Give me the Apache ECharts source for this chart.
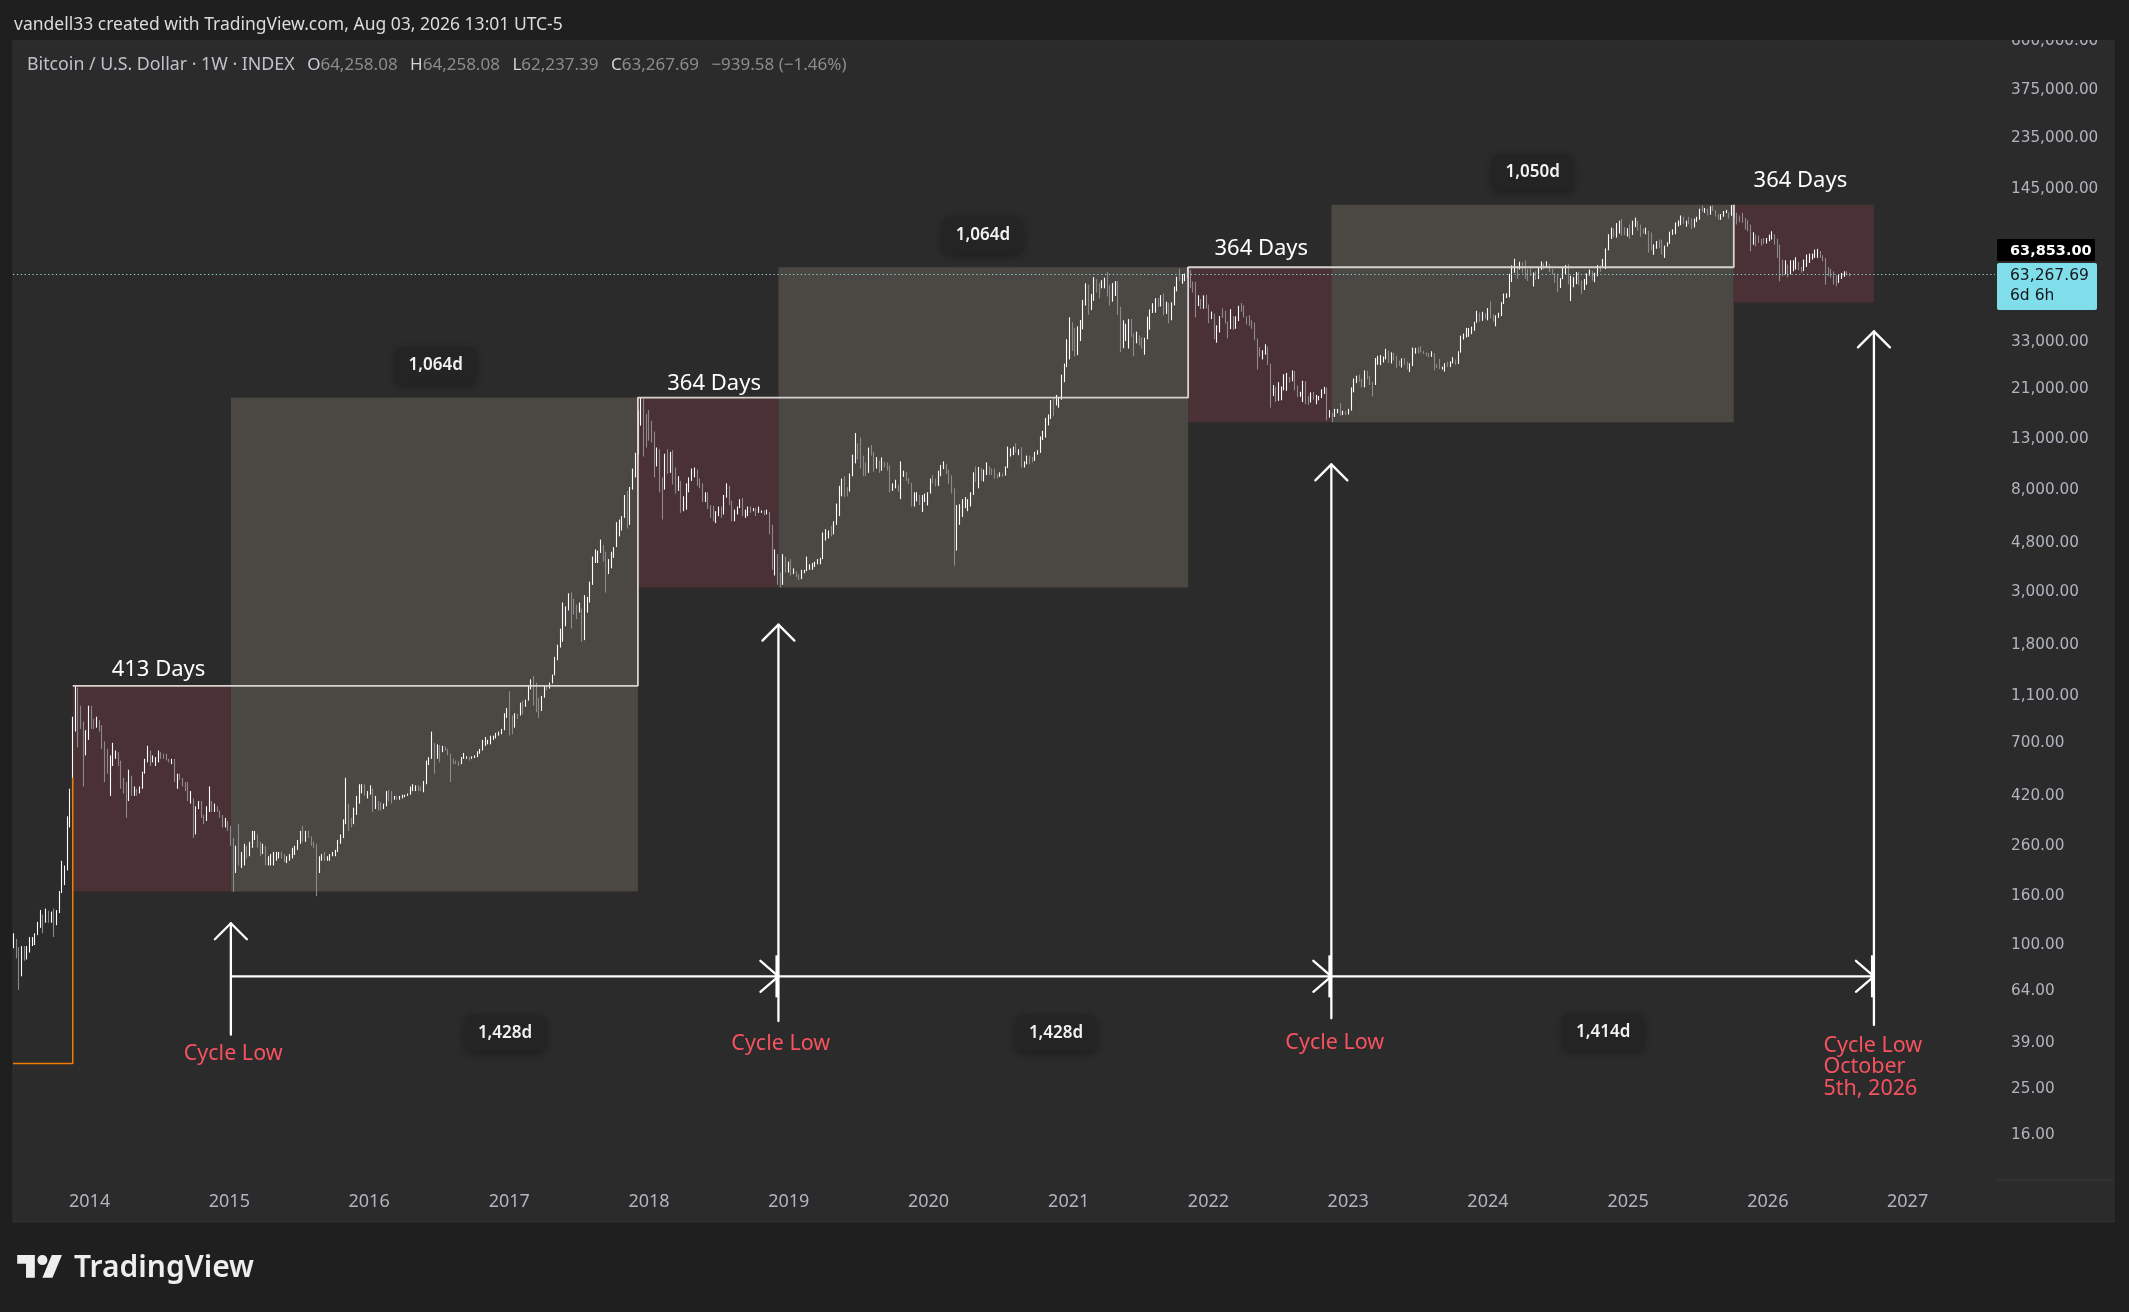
<!DOCTYPE html>
<html>
<head>
<meta charset="utf-8">
<title>Bitcoin cycles</title>
<script src="https://cdn.jsdelivr.net/npm/echarts@6.0.0/dist/echarts.min.js"></script>
<style>
html,body{margin:0;padding:0;background:#1f1f1f;overflow:hidden;}
#chart{width:2129px;height:1312px;}
</style>
</head>
<body>
<div id="chart"></div>
<script>
// ================= DATA (weekly bars: [high, low, close]; open = previous close) =================
const firstOpen = 99;
const weekStarts = ['2013-06-17','2014-01-06','2015-01-05','2016-01-04','2017-01-02','2018-01-01','2019-01-07','2020-01-06','2021-01-04','2022-01-03','2023-01-02','2024-01-01','2025-01-06','2026-01-05'];

const bars2013 = [[112,97,101],[106,88,95],[98,65,77],[99,74,97],[99,86,91],[99,87,96],[108,93,103],[108,99,104],[112,100,111],[125,110,122],[140,118,130],[134,112,125],[142,124,136],[139,124,133],[138,124,134],[142,108,125],[140,121,137],[168,136,165],[225,165,182],[215,178,210],[345,205,330],[450,310,420],[900,380,790],[1211,780,1100],[1190,670,880],[1000,800,860],[860,460,660],[790,620,730],[1000,720,950]];
const bars2014 = [[1000,800,860],[880,800,835],[900,810,870],[870,780,805],[830,660,690],[710,480,630],[660,520,560],[620,420,560],[700,560,630],[650,600,630],[640,560,570],[590,450,480],[500,430,450],[480,340,440],[540,400,500],[510,420,440],[460,420,440],[450,420,435],[460,430,450],[530,450,520],[600,520,580],[680,580,650],[650,560,580],[620,580,600],[610,560,600],[650,580,630],[640,600,625],[630,600,620],[630,590,595],[600,580,590],[600,570,590],[600,480,490],[520,450,500],[520,490,495],[500,460,480],[480,440,475],[480,400,410],[440,390,410],[410,280,330],[380,290,380],[400,370,390],[400,340,350],[350,320,345],[380,330,370],[460,360,385],[400,360,375],[390,360,380],[380,360,365],[365,340,350],[350,310,320],[340,310,330],[330,300,315]];
const bars2015 = [[300,260,275],[280,167,205],[260,200,250],[320,215,225],[245,210,228],[265,215,260],[260,230,238],[270,235,260],[300,255,275],[300,275,285],[290,255,262],[270,235,245],[265,240,255],[260,215,222],[235,215,225],[240,215,225],[245,215,240],[245,225,240],[245,230,240],[245,230,236],[240,222,225],[235,220,230],[240,225,233],[255,230,245],[260,238,255],[275,250,270],[300,265,300],[315,270,275],[300,270,290],[300,280,285],[285,260,265],[270,255,260],[265,160,230],[235,200,230],[240,225,240],[245,225,230],[235,225,230],[240,225,235],[245,235,240],[250,235,248],[275,245,270],[290,265,285],[335,280,325],[500,320,380],[390,300,330],[340,310,325],[375,320,370],[420,350,390],[470,390,435],[470,430,440],[470,420,420],[440,410,430]];
const bars2016 = [[465,425,447],[450,360,380],[420,370,400],[400,365,380],[395,365,375],[390,370,383],[440,380,435],[445,400,430],[440,390,410],[420,405,412],[420,405,410],[420,405,415],[425,410,420],[425,415,420],[430,420,428],[460,425,455],[470,440,455],[465,440,460],[465,440,455],[460,440,442],[485,435,470],[590,470,580],[610,565,600],[780,600,700],[700,520,660],[690,600,680],[685,580,650],[680,640,665],[675,650,655],[660,620,625],[630,480,590],[600,570,585],[590,570,580],[585,560,575],[610,570,605],[635,600,608],[615,600,610],[610,590,600],[615,600,612],[620,605,616],[645,610,640],[660,630,655],[720,650,700],[740,680,705],[720,690,705],[750,690,735],[750,720,735],[770,730,765],[780,750,775],[800,760,790],[930,790,895],[980,890,965]];
const bars2017 = [[1150,750,900],[910,760,820],[930,810,920],[925,880,915],[1030,910,1010],[1050,920,1000],[1060,990,1055],[1210,1050,1190],[1290,1170,1270],[1330,1000,1230],[1250,940,970],[1080,890,965],[1100,950,1090],[1210,1080,1200],[1220,1160,1180],[1250,1180,1245],[1350,1240,1345],[1600,1340,1560],[1800,1550,1770],[2100,1750,2050],[2700,1850,2200],[2600,2150,2550],[2950,2500,2650],[2980,2100,2620],[2800,2400,2520],[2650,2300,2450],[2700,2450,2520],[2550,1850,1920],[2900,1880,2750],[2850,2450,2800],[3300,2700,3230],[4200,3200,4080],[4500,3950,4100],[4450,3950,4350],[4950,4350,4600],[4700,4000,4200],[4400,2970,3700],[4100,3550,3780],[4400,3750,4350],[4600,4150,4600],[5850,4600,5700],[6000,5100,6000],[6200,5400,6150],[7600,6100,7400],[7900,5500,5900],[8200,5700,8000],[9800,8000,9700],[11400,9000,11200],[17200,11200,15000],[19400,14800,19000],[19200,11000,14000],[16600,12000,13800]];
const bars2018 = [[17200,12800,13700],[15500,12600,13600],[14000,9000,11500],[12000,10000,11600],[11800,7800,8200],[9000,6000,8100],[11300,8000,11000],[11800,9300,9600],[11500,9400,11400],[11700,8400,8900],[9900,7700,8200],[9100,7900,8500],[8700,6400,6900],[7500,6500,6900],[8500,6600,8000],[9000,7800,8900],[9800,8700,9300],[9900,9000,9600],[9700,8300,8700],[8900,8100,8200],[8500,7100,7500],[7800,7100,7700],[7800,6650,6750],[6900,6100,6450],[6850,5900,6200],[6500,5800,6400],[6800,6200,6750],[6800,6100,6350],[7600,6300,7400],[8500,7400,8200],[8300,6900,7000],[7200,5900,6300],[6600,5900,6400],[6800,6300,6700],[7300,6700,7200],[7400,6200,6300],[6600,6100,6500],[6800,6200,6700],[6800,6400,6600],[6700,6500,6600],[6700,6200,6400],[6800,6400,6450],[6550,6400,6450],[6550,6250,6400],[6600,6300,6400],[6450,5200,5600],[5700,3700,4000],[4500,3500,4100],[4300,3200,3500],[3600,3120,3250],[4300,3200,3950],[4200,3600,3850],[4000,3600,4000]];
const bars2019 = [[4100,3500,3550],[3750,3550,3550],[3650,3450,3530],[3550,3350,3420],[3700,3380,3650],[3700,3580,3660],[4200,3650,3850],[3900,3700,3850],[3950,3700,3900],[4000,3800,4000],[4100,3900,4000],[4150,3900,4100],[5300,4100,5050],[5470,4900,5050],[5400,5000,5300],[5650,5100,5200],[5900,5200,5750],[7000,5700,6950],[8300,6200,8000],[8900,7500,8700],[9100,7450,8000],[8200,7500,7950],[9350,7850,9300],[11200,9100,11000],[13800,10300,11900],[12500,10700,11450],[13200,9800,10200],[11100,9100,9850],[10400,9100,9500],[12000,9400,11850],[12300,11100,11400],[11500,9500,10200],[10950,9800,10350],[10600,9400,9600],[10900,9600,10400],[10450,9900,10300],[10400,9600,9700],[10100,7800,8050],[8500,7900,8200],[8800,8100,8300],[8400,7850,8200],[10500,7300,9200],[9600,9050,9200],[9500,8700,8800],[8950,8450,8500],[8550,6800,7000],[7800,6800,7400],[7800,7150,7500],[7600,6900,7100],[7600,6450,7300],[7700,7100,7400],[7800,6870,7750]];
const bars2020 = [[8900,7700,8900],[9200,8500,8650],[8900,8250,8350],[9600,8300,9350],[10150,9100,9900],[10500,9750,9900],[10200,9300,9650],[9700,8450,8550],[9180,7700,8050],[8100,3850,5400],[6900,4450,5800],[6950,5700,6250],[7300,6150,6800],[7450,6700,6900],[7300,6500,7150],[7800,6800,7700],[9450,7600,8900],[10000,8600,8700],[9950,8100,9650],[9850,8700,8900],[9700,8650,9450],[10400,9200,9700],[10000,9200,9400],[9800,9200,9300],[9800,8900,9150],[9300,8900,9050],[9450,9050,9200],[9350,9050,9150],[10000,9150,9950],[12100,9850,11050],[11900,11000,11700],[12100,11150,11900],[12500,11400,11650],[11800,11150,11700],[12050,9900,10250],[10500,9900,10300],[11100,10200,11000],[11100,10200,10750],[10950,10400,10680],[11500,10550,11400],[11700,11200,11500],[13350,11400,13100],[14100,12900,13800],[15950,13200,15500],[16500,14850,16000],[18950,15800,18700],[19500,16200,18200],[19900,18000,19200],[19400,17600,19200],[24200,19000,23800],[26900,22500,26500],[34000,26000,33000]];
const bars2021 = [[42000,28000,38200],[40100,30400,36000],[37800,28800,32300],[38500,29200,34300],[40900,33400,39200],[49700,37400,48600],[58300,47000,57500],[57500,43000,46200],[52600,45000,50900],[61800,49200,59000],[60700,53300,57300],[58500,50400,55800],[60000,55500,58200],[61500,55500,60000],[64900,51300,56200],[57500,47000,49000],[58400,48800,56600],[59500,51600,58200],[59500,43000,46500],[45800,30000,34700],[40800,31200,35700],[39500,33400,35800],[41300,31100,39000],[41300,34800,35500],[36000,28800,34700],[36600,32700,35300],[35100,32100,34250],[34600,31100,31800],[34500,29300,34300],[42300,34000,41500],[45300,37300,44400],[48100,43800,47000],[50500,43900,49000],[50500,46400,48800],[52000,46600,51800],[52900,42800,45000],[48800,43400,48300],[48300,39600,42800],[48500,40800,48200],[56500,47100,55000],[62000,53900,61500],[67000,59600,61300],[63700,58000,61300],[64000,59400,61500],[68000,62300,65500],[66300,55600,58600],[59300,53300,57300],[59100,42000,49400],[51900,46800,50100],[50000,45500,46700],[51900,45600,50800],[52100,45700,47300]];
const bars2022 = [[47500,39700,41900],[44400,41300,43100],[43500,34000,36300],[38900,32900,37900],[42500,36300,42400],[45800,41800,42200],[44800,39500,40100],[40300,34300,37700],[45400,37500,38400],[42500,37200,37800],[42400,37600,41300],[46900,40500,46800],[48200,44300,46400],[47200,42000,42200],[42400,39200,39700],[42900,38600,39500],[40800,37600,38500],[40000,33700,34300],[34300,25400,31300],[31500,28700,29400],[30600,28000,29500],[32400,29300,29900],[31700,26500,26600],[26900,17600,20600],[21900,19700,21000],[21600,18600,19300],[22500,18800,20800],[21600,18900,20800],[24300,20800,22600],[24600,20700,23300],[23700,22400,23200],[25200,22700,24400],[25100,20800,21500],[21800,19500,19550],[20500,19600,19800],[22800,18600,21800],[22700,18200,19400],[19700,18100,18800],[20400,18500,19300],[20500,19000,19100],[19900,18200,19200],[19700,18900,19600],[21000,19300,20600],[21500,20100,21300],[21400,15600,16300],[17200,16000,16700],[16800,15300,16500],[17400,16100,17100],[17400,16700,17100],[18400,16300,16800],[17100,16400,16850],[17000,16400,16600]];
const bars2023 = [[17400,16500,17150],[21400,17100,20900],[23300,20400,22700],[23950,22300,23700],[24200,22600,22950],[23200,21400,21800],[25200,21400,24600],[25100,23100,23450],[23900,21900,22400],[22600,19600,22100],[28400,21900,27950],[29000,26600,27950],[29200,26500,28150],[28800,27200,28300],[31000,28000,30300],[30500,27100,27800],[30000,26950,29250],[29800,27700,28900],[29000,25800,26800],[27700,26300,26750],[28300,25900,28100],[28400,26500,27100],[27400,25400,25850],[27000,24800,26350],[31400,26250,30500],[31300,29600,30600],[31500,29700,30300],[31800,29900,30250],[30400,29500,29850],[30000,28900,29300],[29800,28600,29050],[30300,28700,29400],[29700,25200,26100],[26800,25800,26000],[28100,25500,25850],[26100,25400,25850],[27000,24900,26550],[27400,26000,26250],[27500,26000,26950],[28600,27200,27950],[28000,26550,26850],[30300,26800,29950],[35200,29900,34500],[35900,33900,35000],[37950,34600,37050],[37900,34800,37400],[38400,35700,37450],[40250,36900,39950],[44700,39900,43800],[44000,40200,42200],[44300,40600,43700],[43600,41500,42300]];
const bars2024 = [[45900,40800,43950],[49000,41700,41700],[43200,40300,41550],[42800,38500,42050],[43900,41800,43000],[48600,42500,48300],[52800,47700,51650],[52900,50600,51700],[63900,50900,63100],[69200,59000,68300],[73800,64500,68400],[68900,60800,67200],[71700,66600,69600],[71300,64500,69350],[72700,60800,65700],[66900,59600,64950],[67200,62500,63400],[64700,56500,63900],[65500,60200,61500],[67700,60700,66250],[71900,66300,68500],[70600,66700,67750],[72000,67600,69650],[70200,65000,66200],[66950,63400,64250],[62600,58500,62700],[63800,53500,58200],[61200,55700,60800],[68300,60600,68150],[69400,63500,68250],[70000,57600,58100],[62700,49100,58700],[61800,56100,59450],[65000,57800,64200],[64900,57300,57300],[59800,52550,54850],[60700,54600,59950],[64100,57500,63600],[66500,62700,65650],[65000,59800,62850],[64500,58900,62850],[69400,62400,68400],[69500,65100,67950],[73600,67500,68750],[81500,66800,80400],[93450,80000,90600],[99600,89300,97650],[98700,90800,97200],[104000,90500,101100],[106500,94000,104500],[108300,92200,95300],[99900,92500,93750],[99000,91300,98300]];
const bars2025 = [[102700,89200,94500],[106400,92800,101300],[109600,100100,104700],[106400,96700,97700],[102500,91200,96500],[98500,94100,96150],[99500,93400,96250],[96500,78200,94200],[95000,80000,80700],[84700,76600,82600],[87500,81200,86050],[88800,81600,82300],[88500,76800,78400],[83500,74400,83700],[86400,83000,85200],[95800,87500,93700],[97900,92800,94300],[104300,93400,104600],[106600,100800,106400],[111900,102000,109000],[110700,103100,105600],[106500,100400,105700],[110400,102800,105500],[108900,98200,100900],[108500,99600,108400],[110500,105100,109200],[119400,107500,119100],[123200,115800,117300],[120200,114700,119400],[119300,111900,114200],[122300,112700,119300],[123500,116800,117400],[117600,110700,113500],[113500,107300,108300],[113400,107300,111100],[116800,110600,115300],[118000,114400,115300],[113300,108600,112200],[123800,111600,123500],[124000,109500,115000],[114000,102600,108500],[112000,104900,107200],[114700,104200,106000],[109400,97700,101500],[107000,96100,97000],[102600,79300,86000],[95200,84500,90500],[93100,83200,88500],[92200,85900,88000],[89300,83700,86500],[90100,85000,86000],[90100,85400,88000]];
const bars2026 = [[93100,87300,91500],[96100,88700,93000],[93500,84500,86500],[89300,74400,76500],[84500,59400,64500],[73200,62400,63500],[72700,63400,65500],[69800,61800,64000],[72700,63500,67000],[72700,65400,70500],[74900,66500,71500],[71500,66100,67500],[68200,64400,66000],[73200,65500,71000],[76800,68200,74000],[77500,70900,75500],[77500,73200,76500],[80600,74400,78500],[81100,74400,79500],[79500,74400,76000],[76300,72000,74000],[74400,57500,63000],[68000,62400,62500],[66900,61400,62000],[65400,57500,60500],[62800,56600,59000],[63400,58500,62000],[64400,60800,63500],[65400,62000,65000],[65400,62800,64258.08],[64258.08,62237.39,63267.69]];

// axis ticks
const priceTicks = [600000,375000,235000,145000,33000,21000,13000,8000,4800,3000,1800,1100,700,420,260,160,100,64,39,25,16];
const yearTicks = [2014,2015,2016,2017,2018,2019,2020,2021,2022,2023,2024,2025,2026,2027];

// cycle drawings
const peakDates = ['2013-11-18','2017-12-03','2021-11-09','2025-10-04'];
const peakPrices = [1211, 19400, 68000, 124000];
const cycleLowDates = ['2015-01-05','2018-12-05','2022-11-18','2026-10-05'];
const redBoxLows = [167.6, 3120, 15300, 48400];
const arrowTops = [123.3, 2183, 10200, 36700];
const arrowBottoms = [42.2, 48.1, 49.4, 46.3];
const spanPrice = 74.0;
const orangeLevels = [32, 500];

const dayLabels = ['413 Days','364 Days','364 Days','364 Days'];
const dayLabelDates = ['2014-06-30','2018-06-20','2022-05-19','2026-03-27'];
const dayLabelPrices = [1456, 22640, 83560, 160600];

const rangeLabels = ['1,064d','1,064d','1,050d','1,428d','1,428d','1,414d'];
const rangeLabelDates = ['2016-06-23','2020-05-22','2024-04-27','2016-12-21','2020-11-29','2024-10-28'];
const rangeLabelPrices = [27190, 95260, 173800, 43.9, 43.9, 44.5];

const cycleTexts = ['Cycle Low','Cycle Low','Cycle Low','Cycle Low\nOctober\n5th, 2026'];
const cycleTextDates = ['2015-01-11','2018-12-11','2022-11-27','2026-05-26'];
const cycleTextPrices = [36.1, 39.6, 40.1, 31.7];
const cycleTextAlign = ['center','center','center','left'];

const lastPrice = 63267.69;
const otherPrice = 63853.00;
const countdown = '6d 6h';

// ================= BUILD =================
const DAY = 86400000;
function ts(s){ const p = s.split('-').map(Number); return Date.UTC(p[0], p[1]-1, p[2]); }
const yearBars = [bars2013,bars2014,bars2015,bars2016,bars2017,bars2018,bars2019,bars2020,bars2021,bars2022,bars2023,bars2024,bars2025,bars2026];
const candles = [];
let prevClose = firstOpen;
yearBars.forEach((arr, k) => {
  const t0 = ts(weekStarts[k]);
  arr.forEach((b, i) => {
    const h = b[0], l = b[1], c = b[2];
    candles.push([t0 + i*7*DAY, prevClose, c, Math.min(l, prevClose, c), Math.max(h, prevClose, c)]);
    prevClose = c;
  });
});

const X_MIN = ts('2013-06-15');
const X_MAX = X_MIN + 5176.2*DAY;

const boxes = [];
for (let i = 0; i < 4; i++) {
  boxes.push([ts(peakDates[i]), ts(cycleLowDates[i]), redBoxLows[i], peakPrices[i], 1]);
  if (i < 3) boxes.push([ts(cycleLowDates[i]), ts(peakDates[i+1]), redBoxLows[i], peakPrices[i+1], 0]);
}
const stairLine = [[ts(peakDates[0]), peakPrices[0]]];
for (let i = 1; i < 4; i++) { stairLine.push([ts(peakDates[i]), peakPrices[i-1]]); stairLine.push([ts(peakDates[i]), peakPrices[i]]); }

const orangeLine = [[X_MIN, orangeLevels[0]], [ts(peakDates[0]), orangeLevels[0]], [ts(peakDates[0]), orangeLevels[1]]];

const vArrows = cycleLowDates.map((d, i) => [ts(d), arrowTops[i], arrowBottoms[i]]);
const hArrows = [0,1,2].map(i => [ts(cycleLowDates[i]), ts(cycleLowDates[i+1]), spanPrice]);

function fmtPrice(v){
  const n = Math.round(Number(v) * 100) / 100;
  return n.toLocaleString('en-US', {minimumFractionDigits:2, maximumFractionDigits:2});
}

const UI = 'Noto Sans';
const LOGO = '#eeeeee';
const TDY = 2.7;   // baseline nudge for drawn text
const chart = echarts.init(document.getElementById('chart'), null, {renderer:'canvas', width:2129, height:1312});

const option = {
  backgroundColor: '#1f1f1f',
  animation: false,
  grid: {left: 13, right: 134, top: 38, bottom: 132, containLabel: false},
  xAxis: {
    type: 'value', min: X_MIN, max: X_MAX, scale: true,
    axisLine: {show:false}, axisTick: {show:false}, splitLine: {show:false},
    axisLabel: {
      customValues: yearTicks.map(y => Date.UTC(y, 0, 1)),
      formatter: v => String(new Date(v).getUTCFullYear()),
      color: '#b2b5be', fontFamily: UI, fontSize: 18, margin: 13
    }
  },
  yAxis: {
    type: 'log', logBase: 10, min: 10.427, max: 617200, position: 'right',
    axisLine: {show:false}, axisTick: {show:false}, splitLine: {show:false},
    axisLabel: {
      customValues: priceTicks,
      formatter: v => fmtPrice(v),
      color: '#b2b5be', fontFamily: 'DejaVu Sans', fontSize: 15.25, margin: 16,
      padding: [6, 0, 0, 0]
    }
  },
  graphic: [
    {type:'rect', z:-10, silent:true, shape:{x:13, y:40, width:2101, height:1182}, style:{fill:'#2b2b2b', stroke:'#333333', lineWidth:1}},
    {type:'line', z:-9, silent:true, shape:{x1:1997, y1:1180, x2:2113, y2:1180}, style:{stroke:'#3a3a3a', lineWidth:1}},
    {type:'rect', z:100, silent:true, shape:{x:0, y:0, width:2129, height:40}, style:{fill:'#1f1f1f'}},
    {type:'text', z:101, silent:true, x:14, y:25.4, style:{text:'vandell33 created with TradingView.com, Aug 03, 2026 13:01 UTC-5', fill:'#dcdcdc', fontSize:17.5, fontFamily:UI, verticalAlign:'middle', textVerticalAlign:'middle'}},
    {type:'text', z:101, silent:true, x:27, y:65.4, style:{
      text:'{t|Bitcoin / U.S. Dollar · 1W · INDEX}{s| }{k|O}{v|64,258.08}{s| }{k|H}{v|64,258.08}{s| }{k|L}{v|62,237.39}{s| }{k|C}{v|63,267.69}{s| }{v|−939.58 (−1.46%)}',
      verticalAlign:'middle', textVerticalAlign:'middle',
      rich:{
        t:{fill:'#bfc2c9', fontSize:17.8, fontFamily:UI},
        k:{fill:'#d1d4dc', fontSize:17, fontFamily:UI},
        v:{fill:'#8c8c8c', fontSize:17, fontFamily:UI},
        s:{fill:'#8c8c8c', fontSize:17, fontFamily:UI, width:12.5}
      }
    }},
    {type:'polygon', z:101, silent:true, x:17.2, y:1250, scaleX:1.26, scaleY:1.26, shape:{points:[[14,22],[7,22],[7,11],[0,11],[0,4],[14,4]]}, style:{fill:LOGO}},
    {type:'polygon', z:101, silent:true, x:17.2, y:1250, scaleX:1.26, scaleY:1.26, shape:{points:[[28,22],[20,22],[27.5,4],[35.5,4]]}, style:{fill:LOGO}},
    {type:'circle', z:101, silent:true, x:17.2, y:1250, scaleX:1.26, scaleY:1.26, shape:{cx:20, cy:8, r:4}, style:{fill:LOGO}},
    {type:'text', z:101, silent:true, x:74, y:1268, style:{text:'TradingView', fill:LOGO, fontSize:30, fontWeight:600, fontFamily:UI, verticalAlign:'middle', textVerticalAlign:'middle'}}
  ],
  series: [
    {
      name:'boxes', type:'custom', z:1, silent:true, clip:true,
      data: boxes, encode:{x:[0,1], y:[2,3]},
      renderItem: (params, api) => {
        const a = api.coord([api.value(0), api.value(3)]);
        const b = api.coord([api.value(1), api.value(2)]);
        return {type:'rect', shape:{x:a[0], y:a[1], width:b[0]-a[0], height:b[1]-a[1]},
          style:{fill: api.value(4) === 1 ? '#4a3136' : '#4b4742'}};
      }
    },
    {
      name:'BTCUSD', type:'candlestick', z:2, large:false, silent:true,
      data: candles, encode:{x:0, y:[1,2,3,4]},
      barWidth: 0.5,
      itemStyle:{color:'#ffffff', color0:'#8a8a8a', borderColor:'#ffffff', borderColor0:'#8a8a8a', borderWidth:1.1},
      markLine:{
        silent:true, symbol:['none','none'], animation:false,
        label:{show:false},
        lineStyle:{color:'#8fd3da', type:[1.3,2.6], width:1.2},
        data:[{yAxis:lastPrice}]
      }
    },
    {
      name:'stairs', type:'line', z:3, silent:true, data: stairLine,
      symbol:'none', lineStyle:{color:'#d6d3cf', width:1.8}
    },
    {
      name:'orange', type:'line', z:3, silent:true, data: orangeLine,
      symbol:'none', lineStyle:{color:'#f57c00', width:1.5}
    },
    {
      name:'vArrows', type:'custom', z:4, silent:true, clip:false,
      data: vArrows, encode:{x:0, y:[1,2]},
      renderItem: (params, api) => {
        const t = api.coord([api.value(0), api.value(1)]);
        const b = api.coord([api.value(0), api.value(2)]);
        const s = {stroke:'#ffffff', lineWidth:2.3, fill:null, lineCap:'round', lineJoin:'round'};
        return {type:'group', children:[
          {type:'line', shape:{x1:t[0], y1:t[1], x2:b[0], y2:b[1]}, style:s},
          {type:'polyline', shape:{points:[[t[0]-16, t[1]+16],[t[0], t[1]],[t[0]+16, t[1]+16]]}, style:s}
        ]};
      }
    },
    {
      name:'hArrows', type:'custom', z:4, silent:true, clip:false,
      data: hArrows, encode:{x:[0,1], y:2},
      renderItem: (params, api) => {
        const a = api.coord([api.value(0), api.value(2)]);
        const b = api.coord([api.value(1), api.value(2)]);
        const s = {stroke:'#ffffff', lineWidth:2.3, fill:null, lineCap:'round', lineJoin:'round'};
        return {type:'group', children:[
          {type:'line', shape:{x1:a[0], y1:a[1], x2:b[0], y2:b[1]}, style:s},
          {type:'polyline', shape:{points:[[b[0]-18, b[1]-15.5],[b[0], b[1]],[b[0]-18, b[1]+15.5]]}, style:s},
          {type:'line', shape:{x1:b[0]-1.5, y1:b[1]-21, x2:b[0]-1.5, y2:b[1]+21}, style:{stroke:'#ffffff', lineWidth:3}}
        ]};
      }
    },
    {
      name:'dayLabels', type:'custom', z:5, silent:true, clip:false,
      data: dayLabelDates.map((d, i) => [ts(d), dayLabelPrices[i]]), encode:{x:0, y:1},
      renderItem: (params, api) => {
        const p = api.coord([api.value(0), api.value(1)]);
        return {type:'text', x:p[0], y:p[1] + TDY, style:{text: dayLabels[params.dataIndex], fill:'#ffffff', fontSize:22, fontFamily:UI,
          align:'center', verticalAlign:'middle', textAlign:'center', textVerticalAlign:'middle'}};
      }
    },
    {
      name:'rangeLabels', type:'custom', z:5, silent:true, clip:false,
      data: rangeLabelDates.map((d, i) => [ts(d), rangeLabelPrices[i]]), encode:{x:0, y:1},
      renderItem: (params, api) => {
        const p = api.coord([api.value(0), api.value(1)]);
        const w = 80, h = 36, cy = p[1] + TDY;
        return {type:'group', children:[
          {type:'rect', shape:{x:p[0]-w/2, y:cy-h/2, width:w, height:h, r:6},
            style:{fill:'#242424', shadowBlur:8, shadowColor:'rgba(0,0,0,0.35)', shadowOffsetY:2}},
          {type:'text', x:p[0], y:cy, style:{text: rangeLabels[params.dataIndex], fill:'#f2f2f2', fontSize:17, fontWeight:600, fontFamily:UI,
            align:'center', verticalAlign:'middle', textAlign:'center', textVerticalAlign:'middle'}}
        ]};
      }
    },
    {
      name:'cycleTexts', type:'custom', z:5, silent:true, clip:false,
      data: cycleTextDates.map((d, i) => [ts(d), cycleTextPrices[i]]), encode:{x:0, y:1},
      renderItem: (params, api) => {
        const p = api.coord([api.value(0), api.value(1)]);
        const al = cycleTextAlign[params.dataIndex];
        return {type:'text', x:p[0], y:p[1] + TDY, style:{text: cycleTexts[params.dataIndex], fill:'#f7525f', fontSize:21.5, fontFamily:UI, lineHeight:21.7,
          align:al, verticalAlign:'middle', textAlign:al, textVerticalAlign:'middle'}};
      }
    },
    {
      name:'priceTags', type:'custom', z:6, silent:true, clip:false,
      data: [[X_MAX, lastPrice, otherPrice]], encode:{x:0, y:1},
      renderItem: (params, api) => {
        const p = api.coord([api.value(0), api.value(1)]);
        const x0 = p[0] + 2, y = p[1];
        return {type:'group', children:[
          {type:'rect', shape:{x:x0, y:y-35.7, width:98, height:22, r:1}, style:{fill:'#000000'}},
          {type:'text', x:x0+13, y:y-24.7+1, style:{text: fmtPrice(api.value(2)), fill:'#ffffff', fontSize:14.5, fontWeight:'bold', fontFamily:'DejaVu Sans', verticalAlign:'middle', textVerticalAlign:'middle'}},
          {type:'rect', shape:{x:x0, y:y-11.7, width:100, height:47, r:2}, style:{fill:'#80deea'}},
          {type:'text', x:x0+13, y:y+1, style:{text: fmtPrice(api.value(1)), fill:'#15171c', fontSize:15.5, fontFamily:'DejaVu Sans', verticalAlign:'middle', textVerticalAlign:'middle'}},
          {type:'text', x:x0+13, y:y+21, style:{text: countdown, fill:'#15171c', fontSize:15.5, fontFamily:'DejaVu Sans', verticalAlign:'middle', textVerticalAlign:'middle'}}
        ]};
      }
    }
  ]
};
chart.setOption(option);
</script>
</body>
</html>
